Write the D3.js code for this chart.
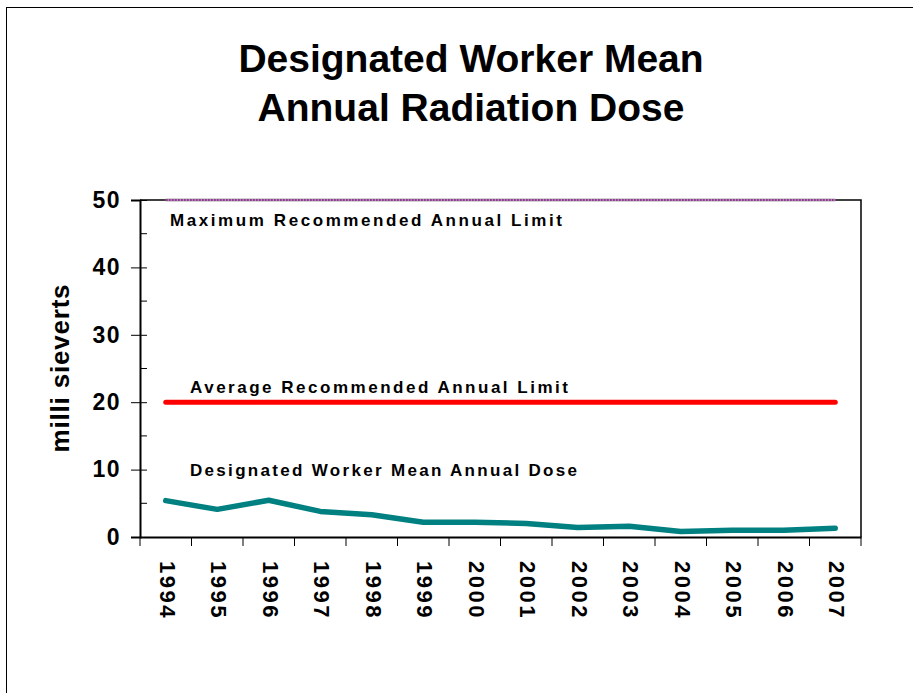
<!DOCTYPE html>
<html>
<head>
<meta charset="utf-8">
<script src="https://cdn.jsdelivr.net/npm/d3@7"></script>
<style>
  body { margin: 0; background: #fff; }
  svg { display: block; font-family: "Liberation Sans", Arial, sans-serif; }
</style>
</head>
<body>
<div id="chart"></div>
<script>
// chart data
const years = ["1994","1995","1996","1997","1998","1999","2000","2001","2002","2003","2004","2005","2006","2007"];
const meanDose = [5.4, 4.1, 5.45, 3.8, 3.3, 2.2, 2.2, 2.0, 1.4, 1.6, 0.8, 1.0, 1.0, 1.3];
const avgLimit = [20, 20, 20, 20, 20, 20, 20, 20, 20, 20, 20, 20, 20, 20];
const maxLimit = [50, 50, 50, 50, 50, 50, 50, 50, 50, 50, 50, 50, 50, 50];
const yTicks = [0, 10, 20, 30, 40, 50];
const yMinorTicks = [5, 15, 25, 35, 45];
const titleLines = ["Designated Worker Mean", "Annual Radiation Dose"];

const width = 913, height = 693;
const margin = {top: 200, right: 52, bottom: 155, left: 140};

const svg = d3.select('#chart').append('svg')
  .attr('width', width)
  .attr('height', height);

// outer frame
svg.append('rect')
  .attr('x', 6.5).attr('y', 7.5)
  .attr('width', 930).attr('height', 720)
  .attr('fill', 'none')
  .attr('stroke', '#000')
  .attr('stroke-width', 1);

const x = d3.scaleBand()
  .domain(years)
  .range([margin.left, width - margin.right]);

const y = d3.scaleLinear()
  .domain([0, 50])
  .range([height - margin.bottom - 1, margin.top]);

const cx = d => x(d) + x.bandwidth() / 2;

// plot frame (right side)
svg.append('path')
  .attr('d', `M${margin.left},${y(50)}H${width - margin.right}V${y(0)}`)
  .attr('fill', 'none')
  .attr('stroke', '#000')
  .attr('stroke-width', 1.5);

// y axis
const yAxis = g => {
  g.attr('transform', `translate(${margin.left},0)`)
    .call(d3.axisLeft(y).tickValues(yTicks).tickSize(9).tickPadding(10))
    .call(g => g.select('.domain').attr('stroke-width', 2))
    .call(g => g.selectAll('.tick line').clone().attr('x2', 7))
    .call(g => g.selectAll('.tick text')
      .attr('font-size', 23).attr('font-weight', 'bold')
      .attr('letter-spacing', 1.5)
      .attr('font-family', '"Liberation Sans", Arial, sans-serif'));
  g.selectAll('.minor')
    .data(yMinorTicks)
    .join('line')
    .attr('class', 'minor')
    .attr('y1', d => y(d)).attr('y2', d => y(d))
    .attr('x1', 0).attr('x2', 7)
    .attr('stroke', '#000');
};

// x axis
const xAxis = g => {
  g.attr('transform', `translate(0,${y(0)})`)
    .call(d3.axisBottom(x).tickSize(0).tickFormat(''))
    .call(g => g.select('.domain').attr('stroke-width', 2));
  g.selectAll('.sep')
    .data(years.concat(['end']))
    .join('line')
    .attr('class', 'sep')
    .attr('x1', (d, i) => i < years.length ? x(d) : x.range()[1])
    .attr('x2', (d, i) => i < years.length ? x(d) : x.range()[1])
    .attr('y1', 0).attr('y2', 9)
    .attr('stroke', '#000');
  g.selectAll('.lab')
    .data(years)
    .join('text')
    .attr('class', 'lab')
    .attr('transform', d => `translate(${cx(d)},24) rotate(90)`)
    .attr('fill', '#000')
    .attr('text-anchor', 'start')
    .attr('font-size', 22)
    .attr('font-weight', 'bold')
    .attr('font-family', '"Liberation Sans", Arial, sans-serif')
    .attr('letter-spacing', 2.5)
    .attr('dominant-baseline', 'middle')
    .text(d => d);
};

svg.append('g').call(yAxis);
svg.append('g').call(xAxis);

const line = d3.line()
  .x((d, i) => cx(years[i]))
  .y(d => y(d));

// max limit (purple, dotted look)
svg.append('path')
  .datum(maxLimit)
  .attr('d', line)
  .attr('fill', 'none')
  .attr('stroke', '#aaa')
  .attr('stroke-width', 3);
svg.append('path')
  .datum(maxLimit)
  .attr('d', line)
  .attr('fill', 'none')
  .attr('stroke', '#993399')
  .attr('stroke-width', 2)
  .attr('stroke-dasharray', '2,1');

svg.append('path')
  .datum(avgLimit)
  .attr('d', line)
  .attr('fill', 'none')
  .attr('stroke', '#ff0000')
  .attr('stroke-width', 5)
  .attr('stroke-linecap', 'round');

svg.append('path')
  .datum(meanDose)
  .attr('d', line)
  .attr('fill', 'none')
  .attr('stroke', '#008080')
  .attr('stroke-width', 5.5)
  .attr('stroke-linecap', 'round')
  .attr('stroke-linejoin', 'round');

// line labels
const notes = [
  {text: "Maximum Recommended Annual Limit", x: 170, v: 46.1, w: 392},
  {text: "Average Recommended Annual Limit", x: 190, v: 21.4, w: 378},
  {text: "Designated Worker Mean Annual Dose", x: 190, v: 9.05, w: 387}
];
svg.selectAll('.note')
  .data(notes)
  .join('text')
  .attr('class', 'note')
  .attr('x', d => d.x)
  .attr('y', d => y(d.v))
  .attr('font-size', 17)
  .attr('font-weight', 'bold')
  .attr('textLength', d => d.w)
  .attr('lengthAdjust', 'spacing')
  .text(d => d.text);

// y title
svg.append('text')
  .attr('transform', `translate(69,368) rotate(-90)`)
  .attr('text-anchor', 'middle')
  .attr('font-size', 26)
  .attr('font-weight', 'bold')
  .attr('letter-spacing', 0.8)
  .text('milli sieverts');

// title
svg.selectAll('.title')
  .data(titleLines)
  .join('text')
  .attr('class', 'title')
  .attr('x', 471)
  .attr('y', (d, i) => 72 + i * 49)
  .attr('text-anchor', 'middle')
  .attr('font-size', 39)
  .attr('font-weight', 'bold')
  .text(d => d);
</script>
</body>
</html>
